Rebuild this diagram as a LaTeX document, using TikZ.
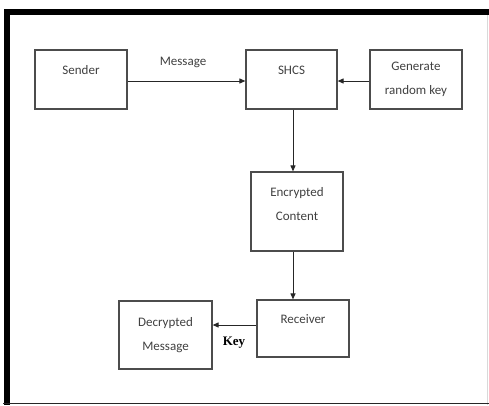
\documentclass[tikz,border=0pt]{standalone}
\usepackage{fontspec}
\setmainfont{Carlito}
\newfontfamily\keyfont{Liberation Serif}
\usetikzlibrary{arrows.meta}
\begin{document}
\begin{tikzpicture}[x=1pt,y=-1pt]
\useasboundingbox (0,0) rectangle (489,405);
% frame
\fill[black] (4,9) rectangle (489,15);
\fill[black] (4,9) rectangle (10,405);
\draw[black!15,line width=0.8pt] (487,15) -- (487,405);
\draw[black!85,line width=1.5pt] (3,403.5) -- (489,403.5);
\begin{scope}[-{Triangle[length=6pt,width=5pt]},line width=1pt,black!85,
              block1/.style={rectangle,draw=black!70,line width=1.2pt,inner sep=0pt,
                             align=center,text=black!75,font=\fontsize{13}{24}\selectfont},
              block2/.style={text height=8.4pt,text depth=19pt},
              block3/.style={inner sep=0pt}]
    \node [block1,block2,minimum width=92pt,minimum height=59pt] (1) at (81,79.5) {Sender};
    \node [block1,block2,minimum width=91pt,minimum height=59pt] (2) at (291.5,79.5) {SHCS};
    \node [block1,minimum width=92pt,minimum height=59pt] (3) at (416,79.5) {Generate \\ random key};
    \node [block1,minimum width=92pt,minimum height=79pt,text height=24pt,text depth=6.6pt] (4) at (297,211.5) {Encrypted \\ Content};
    \node [block1,block2,minimum width=92pt,minimum height=57pt] (5) at (303,328.5) {Receiver};
    \node [block1,minimum width=93pt,minimum height=68pt] (6) at (165.5,335) {Decrypted \\ Message};
    \node [block3,text=black!75,font=\fontsize{13}{15}\selectfont] (7) at (183,62) {Message};
    \node [block3,text=black,font=\keyfont\bfseries\fontsize{13}{15}\selectfont] (8) at (234,343) {Key};
    \draw (1.east |- 0,81) -- (2.west |- 0,81);
    \draw (3.west |- 0,81) -- (2.east |- 0,81);
    \draw (2.south -| 293,0) -- (4.north -| 293,0);
    \draw (4.south -| 293,0) -- (5.north -| 293,0);
    \draw (5.west |- 0,325) -- (6.east |- 0,325);
\end{scope}
\end{tikzpicture}
\end{document}
